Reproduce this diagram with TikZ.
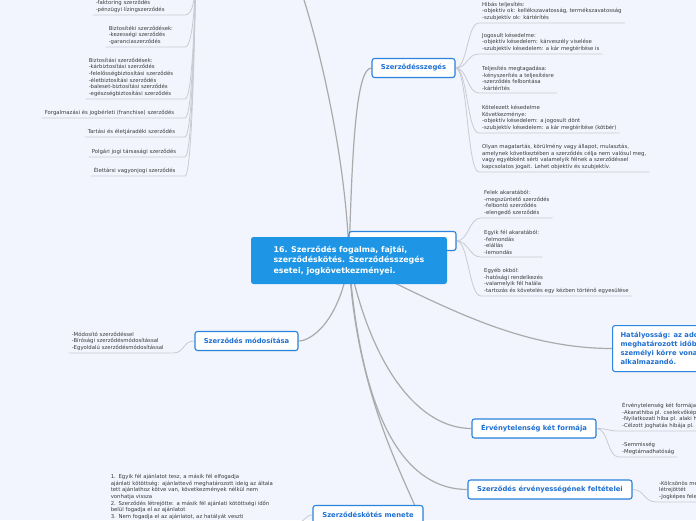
\documentclass[tikz,border=0pt]{standalone}
\usepackage{fontspec}
\setmainfont{DejaVu Sans}
\usetikzlibrary{shadows,positioning}

\definecolor{paperbg}{HTML}{F2F5FD}
\definecolor{hubblue}{HTML}{1E96E5}
\definecolor{topicblue}{HTML}{2B84DD}
\definecolor{topictext}{HTML}{1F6FD2}
\definecolor{branchgray}{HTML}{ABABAB}
\definecolor{twiggray}{HTML}{CACBD2}
\definecolor{notetext}{HTML}{3A3A3A}

\pgfdeclarelayer{paper}
\pgfdeclarelayer{links}
\pgfsetlayers{paper,links,main}

\begin{document}
\begin{tikzpicture}[
  x=1pt, y=-1pt,
  hub/.style={fill=hubblue, rounded corners=2.5pt, text=white, font=\bfseries\fontsize{7.9}{10.8}\selectfont, align=left, minimum width=196pt, minimum height=47pt, inner sep=0pt},
  topic/.style={draw=topicblue, line width=1.1pt, fill=white, rounded corners=2.5pt, text=topictext, font=\bfseries\fontsize{6.8}{9}\selectfont, inner sep=0pt, minimum height=19pt, drop shadow={opacity=0.15, shadow xshift=0.6pt, shadow yshift=-0.8pt}},
  note/.style={anchor=south west, align=left, text=notetext, font=\fontsize{5.35}{6.6}\selectfont, inner xsep=3pt, inner ysep=2.4pt},
  lnote/.style={note, anchor=south east},
  branch/.style={draw=branchgray, line width=1.2pt},
  twig/.style={draw=twiggray, line width=0.8pt}
]
\useasboundingbox (0,0) rectangle (696,520);
\begin{pgfonlayer}{paper}
\fill[paperbg] (0,0) rectangle (696,520);
\end{pgfonlayer}

\coordinate (fent) at (285,-50);
\coordinate (fajtak) at (196,-30);

\node[topic, minimum width=83pt] (szeges) at (413.5,68) {Szerződésszegés};
\node[topic, minimum width=107pt] (rejtett) at (402.5,241) {};
\node[hub] (hub) at (349,260.5) {16. Szerződés fogalma, fajtái,\\szerződéskötés. Szerződésszegés\\esetei, jogkövetkezményei.};
\node[topic, minimum width=103pt] (modositas) at (246.5,341) {Szerződés módosítása};
\node[topic, anchor=north west, minimum height=46pt, align=left, inner xsep=8pt, font=\bfseries\fontsize{6.8}{9}\selectfont] (hatalyos) at (612,325) {Hatályosság: az adott jogszabály\\meghatározott időben, területen\\személyi körre vonatkozóan\\alkalmazandó.};
\node[topic, minimum width=124pt] (ervenytelen) at (534,428.5) {Érvénytelenség két formája};
\node[topic, minimum width=164pt] (feltetel) at (550,489.5) {Szerződés érvényességének feltételei};
\node[topic, minimum width=110pt] (menete) at (368,515) {Szerződéskötés menete};

\node[note] (hibas) at (479,23) {Hibás teljesítés:\\-objektív ok: kellékszavatosság, termékszavatosság\\-szubjektív ok: kártérítés};
\node[note] (jogosult) at (479,54) {Jogosult késedelme:\\-objektív késedelem: kárveszély viselése\\-szubjektív késedelem: a kár megtérítése is};
\node[note] (megtagad) at (479,93) {Teljesítés megtagadása:\\-kényszerítés a teljesítésre\\-szerződés felbontása\\-kártérítés};
\node[note] (kotelezett) at (479,133) {Kötelezett késedelme\\Következménye:\\-objektív késedelem: a jogosult dönt\\-szubjektív késedelem: a kár megtérítése (kötbér)};
\node[note] (olyan) at (479,172) {Olyan magatartás, körülmény vagy állapot, mulasztás,\\amelynek következtében a szerződés célja nem valósul meg,\\vagy egyébként sérti valamelyik félnek a szerződéssel\\kapcsolatos jogait. Lehet objektív és szubjektív.};

\node[note] (felek) at (481,218) {Felek akaratából:\\-megszüntető szerződés\\-felbontó szerződés\\-elengedő szerződés};
\node[note] (egyik) at (481,257) {Egyik fél akaratából:\\-felmondás\\-elállás\\-lemondás};
\node[note] (egyeb) at (481,296) {Egyéb okból:\\-hatósági rendelkezés\\-valamelyik fél halála\\-tartozás és követelés egy kézben történő egyesülése};

\node[lnote, text width=86pt] (faktoring) at (185,15) {-faktoring szerződés\\-pénzügyi lízingszerződés};
\node[lnote, text width=73pt] (biztositeki) at (185,47) {Biztosítéki szerződések:\\-kezességi szerződés\\-garanciaszerződés};
\node[lnote, text width=93pt] (biztositasi) at (185,99) {Biztosítási szerződések:\\-kárbiztosítási szerződés\\-felelősségbiztosítási szerződés\\-életbiztosítási szerződés\\-baleset-biztosítási szerződés\\-egészségbiztosítási szerződés};
\node[lnote, text width=137pt] (forgalmazasi) at (185,118) {Forgalmazási és jogbérleti (franchise) szerződés};
\node[lnote, text width=94pt] (tartasi) at (185,137) {Tartási és életjáradéki szerződés};
\node[lnote, text width=90pt] (polgari) at (185,157) {Polgári jogi társasági szerződés};
\node[lnote, text width=88pt] (elettarsi) at (185,176) {Élettársi vagyonjogi szerződés};

\node[lnote, text width=98pt] (modleaf) at (173,353) {-Módosító szerződéssel\\-Bírósági szerződésmódosítással\\-Egyoldalú szerződésmódosítással};
\node[lnote, text width=184pt] (menleaf) at (298,522) {1. Egyik fél ajánlatot tesz, a másik fél elfogadja\\ajánlati kötöttség: ajánlattevő meghatározott ideig az általa\\tett ajánlathoz kötve van, következmények nélkül nem\\vonhatja vissza\\2. Szerződés létrejötte: a másik fél ajánlati kötöttségi időn\\belül fogadja el az ajánlatot\\3. Nem fogadja el az ajánlatot, az hatályát veszti};

\node[note] (ervleaf) at (619,431) {Érvénytelenség két formája:\\-Akarathiba pl. cselekvőképtelenség\\-Nyilatkozati hiba pl. alaki hiba\\-Célzott joghatás hibája pl. színlelt szerződés};
\node[note] (semmis) at (619,457) {-Semmisség\\-Megtámadhatóság};
\node[note] (feltleaf) at (656,502) {-Kölcsönös megegyezés, amely a szerződés\\létrejöttét\\-Jogképes felek};

\begin{pgfonlayer}{links}
\draw[branch] (hub.center) .. controls (347,150) and (310,0) .. (fent);
\draw[branch] (hub.center) .. controls (352,150) and (356,68) .. (szeges.west);
\draw[branch] (hub.center) .. controls (380,245) and (370,241) .. (rejtett.west);
\draw[branch] (hub.center) .. controls (340,320) and (312,341) .. (modositas.east);
\draw[branch] (hub.center) .. controls (450,310) and (520,348) .. (hatalyos.west);
\draw[branch] (hub.center) .. controls (372,370) and (420,428.5) .. (ervenytelen.west);
\draw[branch] (hub.center) .. controls (362,430) and (410,489.5) .. (feltetel.west);
\draw[branch] (hub.center) .. controls (355,380) and (395,460) .. ([xshift=-9pt]menete.north east);

\draw[twig] (szeges.east) .. controls +(12,0) and +(-12,0) .. (hibas.south west) -- (hibas.south east);
\draw[twig] (szeges.east) .. controls +(12,0) and +(-12,0) .. (jogosult.south west) -- (jogosult.south east);
\draw[twig] (szeges.east) .. controls +(12,0) and +(-12,0) .. (megtagad.south west) -- (megtagad.south east);
\draw[twig] (szeges.east) .. controls +(12,0) and +(-12,0) .. (kotelezett.south west) -- (kotelezett.south east);
\draw[twig] (szeges.east) .. controls +(12,0) and +(-12,0) .. (olyan.south west) -- (olyan.south east);

\draw[twig] (rejtett.east) .. controls +(12,0) and +(-12,0) .. (felek.south west) -- (felek.south east);
\draw[twig] (rejtett.east) .. controls +(12,0) and +(-12,0) .. (egyik.south west) -- (egyik.south east);
\draw[twig] (rejtett.east) .. controls +(12,0) and +(-12,0) .. (egyeb.south west) -- (egyeb.south east);

\draw[twig] (fajtak) .. controls (195,0) and +(8,0) .. (faktoring.south east) -- (faktoring.south west);
\draw[twig] (fajtak) .. controls (195,0) and +(8,0) .. (biztositeki.south east) -- (biztositeki.south west);
\draw[twig] (fajtak) .. controls (195,0) and +(8,0) .. (biztositasi.south east) -- (biztositasi.south west);
\draw[twig] (fajtak) .. controls (195,0) and +(8,0) .. (forgalmazasi.south east) -- (forgalmazasi.south west);
\draw[twig] (fajtak) .. controls (195,0) and +(8,0) .. (tartasi.south east) -- (tartasi.south west);
\draw[twig] (fajtak) .. controls (195,0) and +(8,0) .. (polgari.south east) -- (polgari.south west);
\draw[twig] (fajtak) .. controls (195,0) and +(8,0) .. (elettarsi.south east) -- (elettarsi.south west);

\draw[twig] (modositas.west) .. controls +(-12,0) and +(12,0) .. (modleaf.south east) -- (modleaf.south west);
\draw[twig] (menete.west) .. controls +(-8,0) and +(8,0) .. (menleaf.south east) -- (menleaf.south west);
\draw[twig] (ervenytelen.east) .. controls +(12,0) and +(-12,0) .. (ervleaf.south west) -- (ervleaf.south east);
\draw[twig] (ervenytelen.east) .. controls +(12,0) and +(-12,0) .. (semmis.south west) -- (semmis.south east);
\draw[twig] (feltetel.east) .. controls +(12,0) and +(-12,0) .. (feltleaf.south west) -- (feltleaf.south east);
\end{pgfonlayer}
\end{tikzpicture}
\end{document}
